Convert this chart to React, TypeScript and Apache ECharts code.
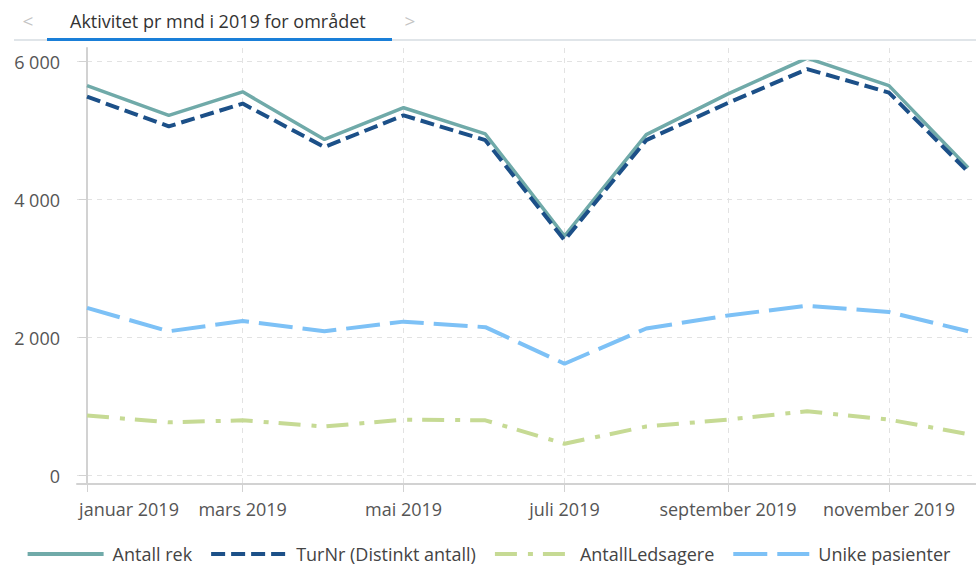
import React, { useEffect, useRef } from "react";
import * as echarts from "echarts";

const monthNames = ["januar", "februar", "mars", "april", "mai", "juni", "juli", "august", "september", "oktober", "november", "desember"];
const year = 2019;
const labelMonths = [0, 2, 4, 6, 8, 10];

const antallRek = [5650, 5220, 5560, 4870, 5330, 4950, 3470, 4940, 5530, 6050, 5650, 4460];
const turNr = [5490, 5060, 5390, 4760, 5220, 4860, 3410, 4860, 5400, 5890, 5550, 4400];
const antallLedsagere = [870, 770, 800, 710, 810, 800, 460, 710, 810, 930, 810, 600];
const unikePasienter = [2430, 2090, 2240, 2090, 2230, 2150, 1620, 2130, 2320, 2460, 2370, 2090];

const yTicks = [0, 2000, 4000, 6000];
const title = "Aktivitet pr mnd i 2019 for området";

const dayOf = (m: number) => (Date.UTC(year, m, 1) - Date.UTC(year, 0, 1)) / 86400000;
const monthDays = monthNames.map((_, i) => dayOf(i));
const toPairs = (arr: number[]) => arr.map((v, i) => [monthDays[i], v]);

const X_MIN = -3.8;
const X_MAX = 337;
const FONT = "'Open Sans', sans-serif";

const fmtNum = (v: number) => String(v).replace(/\B(?=(\d{3})+(?!\d))/g, " ");

export default function App() {
  const ref = useRef<HTMLDivElement>(null);
  useEffect(() => {
    if (!ref.current) return;
    const chart = echarts.init(ref.current, undefined, { renderer: "svg" });
    const tickDays = labelMonths.map((m) => monthDays[m]);
    chart.setOption({
      animation: false,
      textStyle: { fontFamily: FONT },
      graphic: [
        { type: "line", shape: { x1: 14, y1: 40, x2: 976, y2: 40 }, style: { stroke: "#d6dce2", lineWidth: 1.5 } },
        { type: "rect", shape: { x: 47, y: 38, width: 345, height: 3 }, style: { fill: "#1a7fd8" } },
        { type: "text", x: 28, y: 21, style: { text: "<", fill: "#c4c4c4", font: `19px ${FONT}`, textAlign: "center", textVerticalAlign: "middle" } },
        { type: "text", x: 410, y: 21, style: { text: ">", fill: "#c4c4c4", font: `19px ${FONT}`, textAlign: "center", textVerticalAlign: "middle" } },
        { type: "text", x: 70, y: 21, style: { text: title, fill: "#333333", font: `18px ${FONT}`, textAlign: "left", textVerticalAlign: "middle" } },
      ],
      grid: [
        { left: 77, right: 0, top: 61.5, bottom: 89.5 },
        { left: 77, right: 0, top: 48, bottom: 81 },
      ],
      xAxis: [
        { type: "value", gridIndex: 0, min: X_MIN, max: X_MAX, show: false },
        {
          type: "value",
          gridIndex: 1,
          min: X_MIN,
          max: X_MAX,
          axisLine: { show: true, lineStyle: { color: "#d2d2d2", width: 2 } },
          axisTick: { show: true, customValues: tickDays, length: 8, lineStyle: { color: "#d2d2d2" } },
          axisLabel: {
            customValues: tickDays,
            margin: 16,
            color: "#555555",
            fontSize: 18,
            fontFamily: FONT,
            formatter: (v: number) => {
              const idx = monthDays.findIndex((d) => Math.abs(d - v) < 0.01);
              if (idx < 0) return "";
              const t = `${monthNames[idx]} ${year}`;
              return idx === 0 ? `{first|${t}}` : t;
            },
            rich: {
              first: { padding: [0, 0, 0, 84], fontSize: 18, color: "#555555", fontFamily: FONT },
            },
          },
          splitLine: { show: true, lineStyle: { color: "#e2e2e2", type: [5, 5], width: 1 } },
        },
      ],
      yAxis: [
        {
          type: "value",
          gridIndex: 0,
          min: yTicks[0],
          max: yTicks[yTicks.length - 1],
          interval: yTicks[1] - yTicks[0],
          axisLine: { show: false },
          axisTick: { show: true, length: 8, lineStyle: { color: "#d2d2d2" } },
          axisLabel: { margin: 17, color: "#555555", fontSize: 18, fontFamily: FONT, formatter: (v: number) => fmtNum(v) },
          splitLine: { show: true, lineStyle: { color: "#e2e2e2", type: [5, 5], width: 1 } },
        },
        {
          type: "value",
          gridIndex: 1,
          min: 0,
          max: 1,
          axisLine: { show: true, lineStyle: { color: "#d2d2d2", width: 2 } },
          axisTick: { show: false },
          axisLabel: { show: false },
          splitLine: { show: false },
        },
      ],
      legend: {
        top: 545,
        left: "center",
        padding: 0,
        itemWidth: 76,
        itemHeight: 16,
        itemGap: 17,
        itemStyle: { opacity: 0 },
        lineStyle: { width: 4 },
        textStyle: { color: "#444444", fontSize: 18, fontFamily: FONT, padding: [0, 0, 0, 4] },
        data: ["Antall rek", "TurNr (Distinkt antall)", "AntallLedsagere", "Unike pasienter"],
      },
      series: [
        {
          name: "Antall rek",
          type: "line",
          symbol: "none",
          data: toPairs(antallRek),
          color: "#70aaa9",
          lineStyle: { color: "#70aaa9", width: 3.5 },
        },
        {
          name: "TurNr (Distinkt antall)",
          type: "line",
          symbol: "none",
          data: toPairs(turNr),
          color: "#1c5088",
          lineStyle: { color: "#1c5088", width: 4, type: [14, 6] },
        },
        {
          name: "AntallLedsagere",
          type: "line",
          symbol: "none",
          data: toPairs(antallLedsagere),
          color: "#c6da94",
          lineStyle: { color: "#c6da94", width: 4, type: [22, 11, 5, 10] },
        },
        {
          name: "Unike pasienter",
          type: "line",
          symbol: "none",
          data: toPairs(unikePasienter),
          color: "#7dc1f6",
          lineStyle: { color: "#7dc1f6", width: 4, type: [34, 10] },
        },
      ],
    });
    return () => chart.dispose();
  }, []);
  return <div ref={ref} style={{ width: 976, height: 565, position: "absolute", left: 0, top: 0 }} />;
}
